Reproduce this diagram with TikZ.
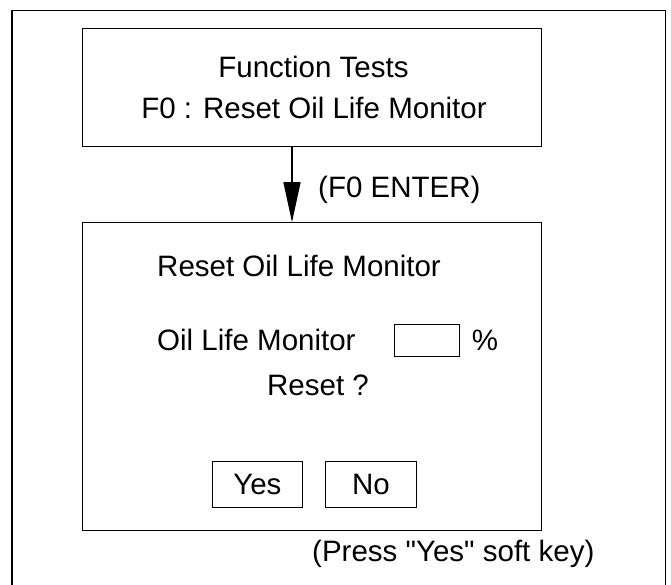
\documentclass[tikz,border=0pt]{standalone}
\usepackage{fontspec}
\setmainfont{Liberation Sans}[Ligatures=TeXOff]
\usetikzlibrary{arrows.meta}

\begin{document}
\begin{tikzpicture}[x=1pt,y=-1pt,font=\fontsize{29.5}{35}\selectfont,>={Triangle[length=40pt,width=17pt]},
  box/.style={draw,line width=1pt,inner sep=0pt},
  txt/.style={inner sep=0pt,anchor=base}]
  \useasboundingbox (0,0) rectangle (671,585);
  \draw[line width=1.3pt] (12,585) -- (12,10.5) -- (665.7,10.5) -- (665.7,585);
  \node[box,minimum width=459.5pt,minimum height=118pt] (ft) at (311.75,87.7) {};
  \node[txt] (fttitle) at (313.5,77.3) {Function Tests};
  \node[txt] (ftline) at (314,118.3) {F0 : Reset Oil Life Monitor};
  \node[box,minimum width=459.5pt,minimum height=307.3pt] (rs) at (311.75,376.35) {};
  \draw[->,line width=1.3pt] ([xshift=-19.75pt]ft.south) -- ([xshift=-19.75pt]rs.north);
  \node[txt,anchor=base west] (enter) at (318,197.5) {(F0 ENTER)};
  \node[txt,anchor=base west] (rstitle) at (157,276) {Reset Oil Life Monitor};
  \node[txt,anchor=base west] (olm) at (157,350.7) {Oil Life Monitor};
  \node[box,minimum width=65pt,minimum height=32pt] (val) at (426.5,340) {};
  \node[txt] (pct) at (485,350.7) {\%};
  \node[txt] (ask) at (318,395.7) {Reset ?};
  \node[box,minimum width=89.3pt,minimum height=46pt] (yes) at (257.35,484.7) {Yes};
  \node[box,minimum width=91.7pt,minimum height=46pt] (no) at (370.85,484.7) {No};
  \node[txt,anchor=base west] (press) at (312,561.7) {(Press "Yes" soft key)};
\end{tikzpicture}
\end{document}
